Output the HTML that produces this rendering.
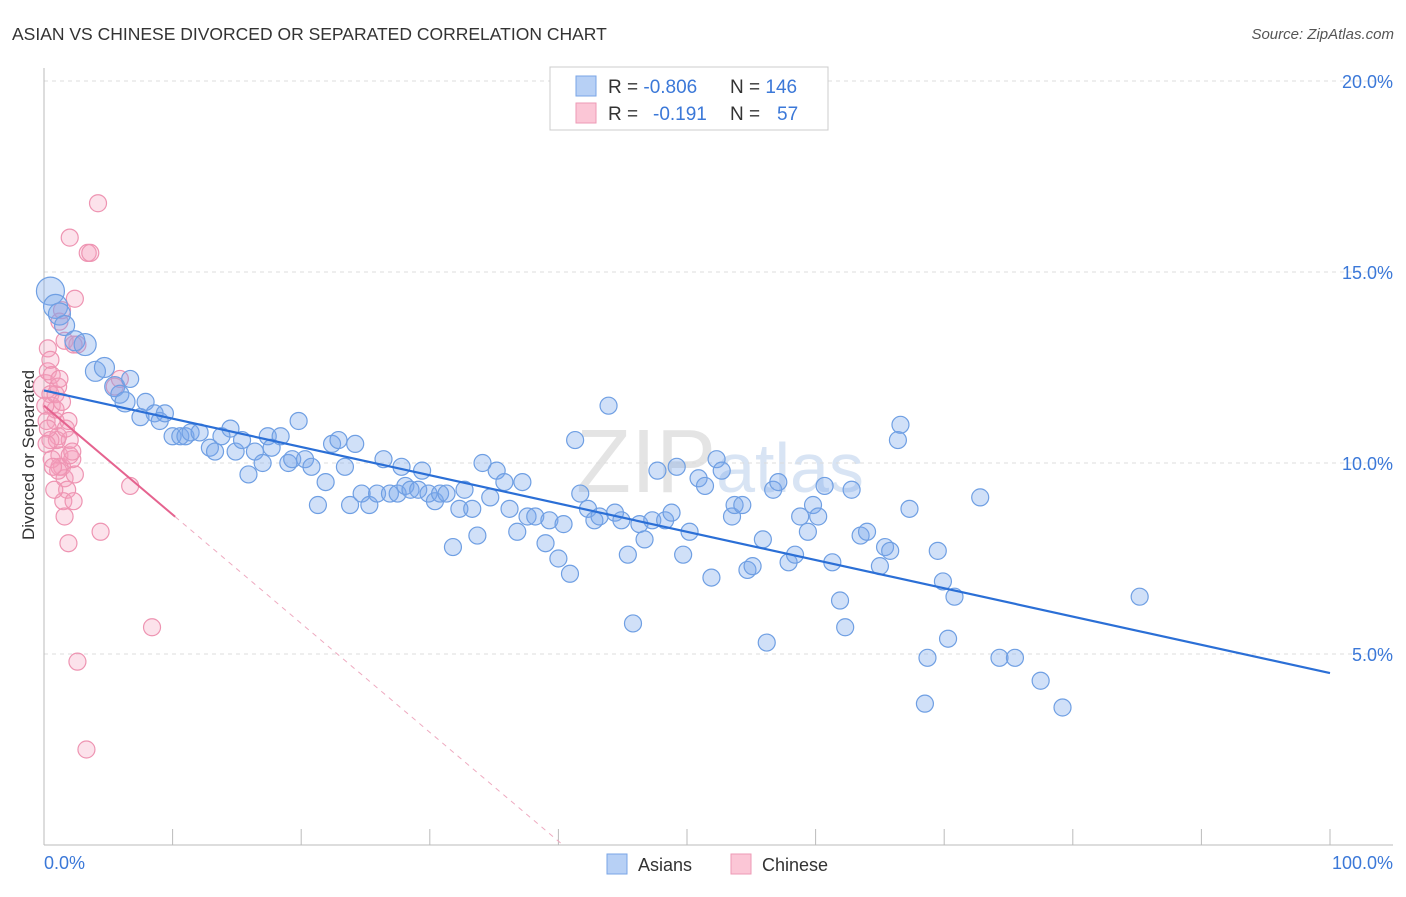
<!DOCTYPE html>
<html><head><meta charset="utf-8"><style>
body{margin:0;background:#fff;font-family:"Liberation Sans",sans-serif;}
svg text{font-family:"Liberation Sans",sans-serif;}
</style></head><body>
<svg id="c" width="1406" height="892" xmlns="http://www.w3.org/2000/svg">
<text x="12" y="40" font-size="17.5" fill="#333">ASIAN VS CHINESE DIVORCED OR SEPARATED CORRELATION CHART</text>
<text x="1394" y="39" font-size="15" fill="#555" font-style="italic" text-anchor="end">Source: ZipAtlas.com</text>
<text x="720" y="492" font-size="90" fill="#e4e4e4" text-anchor="middle" font-family="Liberation Serif">ZIP<tspan font-family="Liberation Sans" font-size="70" fill="#d8e4f4">atlas</tspan></text>
<text transform="translate(34,455) rotate(-90)" font-size="17" fill="#333" text-anchor="middle">Divorced or Separated</text>
<g id="grid"></g><g id="pts"></g><g id="lines"></g>
<g>
<rect x="550" y="67" width="278" height="63" fill="#fff" stroke="#ccc"/>
<rect x="576" y="76" width="20" height="20" fill="#b7d0f5" stroke="#7aa5e6"/>
<rect x="576" y="103" width="20" height="20" fill="#fbc6d6" stroke="#ee9ab5"/>
<text x="608" y="93" font-size="19" fill="#333">R = <tspan fill="#3b78d8">-0.806</tspan></text>
<text x="730" y="93" font-size="19" fill="#333">N = <tspan fill="#3b78d8">146</tspan></text>
<text x="608" y="120" font-size="19" fill="#333">R = </text><text x="653" y="120" font-size="19" fill="#3b78d8">-0.191</text>
<text x="730" y="120" font-size="19" fill="#333">N = </text><text x="777" y="120" font-size="19" fill="#3b78d8">57</text>
</g>
<g>
<rect x="607" y="854" width="20" height="20" fill="#b7d0f5" stroke="#7aa5e6"/>
<text x="638" y="871" font-size="18" fill="#333">Asians</text>
<rect x="731" y="854" width="20" height="20" fill="#fbc6d6" stroke="#ee9ab5"/>
<text x="762" y="871" font-size="18" fill="#333">Chinese</text>
</g>
</svg>
<script>
const yTicks=[5,10,15,20];
const yTickLabels=["5.0%","10.0%","15.0%","20.0%"];
const xTickLabels=["0.0%","100.0%"];
const asianX=[0.5,0.9,1.2,1.6,2.4,3.2,4.0,4.7,5.5,5.9,6.3,6.7,7.5,7.9,8.6,9.0,9.4,10.0,10.6,11.0,11.4,12.1,12.9,13.3,13.8,14.5,14.9,15.4,15.9,16.4,17.0,17.4,17.7,18.4,19.0,19.3,19.8,20.3,20.8,21.3,21.9,22.4,22.9,23.4,23.8,24.2,24.7,25.3,25.9,26.4,26.9,27.5,27.8,28.1,28.5,29.1,29.4,29.9,30.4,30.8,31.3,31.8,32.3,32.7,33.3,33.7,34.1,34.7,35.2,35.8,36.2,36.8,37.2,37.6,38.2,39.0,39.3,40.0,40.4,40.9,41.3,41.7,42.3,42.8,43.2,43.9,44.4,44.9,45.4,45.8,46.3,46.7,47.3,47.7,48.3,48.8,49.2,49.7,50.2,50.9,51.4,51.9,52.3,52.7,53.5,53.7,54.3,54.7,55.1,55.9,56.2,56.7,57.1,57.9,58.4,58.8,59.4,59.8,60.2,60.7,61.3,61.9,62.3,62.8,63.5,64.0,65.0,65.4,65.8,66.4,66.6,67.3,68.7,69.5,69.9,70.3,70.8,68.5,72.8,74.3,75.5,77.5,79.2,85.2];
const asianY=[14.5,14.1,13.9,13.6,13.2,13.1,12.4,12.5,12.0,11.8,11.6,12.2,11.2,11.6,11.3,11.1,11.3,10.7,10.7,10.7,10.8,10.8,10.4,10.3,10.7,10.9,10.3,10.6,9.7,10.3,10.0,10.7,10.4,10.7,10.0,10.1,11.1,10.1,9.9,8.9,9.5,10.5,10.6,9.9,8.9,10.5,9.2,8.9,9.2,10.1,9.2,9.2,9.9,9.4,9.3,9.3,9.8,9.2,9.0,9.2,9.2,7.8,8.8,9.3,8.8,8.1,10.0,9.1,9.8,9.5,8.8,8.2,9.5,8.6,8.6,7.9,8.5,7.5,8.4,7.1,10.6,9.2,8.8,8.5,8.6,11.5,8.7,8.5,7.6,5.8,8.4,8.0,8.5,9.8,8.5,8.7,9.9,7.6,8.2,9.6,9.4,7.0,10.1,9.8,8.6,8.9,8.9,7.2,7.3,8.0,5.3,9.3,9.5,7.4,7.6,8.6,8.2,8.9,8.6,9.4,7.4,6.4,5.7,9.3,8.1,8.2,7.3,7.8,7.7,10.6,11.0,8.8,4.9,7.7,6.9,5.4,6.5,3.7,9.1,4.9,4.9,4.3,3.6,6.5];
const asianR=[14,12,11,10,10,11,10,10,10,9,10];
const chineseX=[0.1,0.3,0.5,0.6,0.9,1.1,1.2,1.4,1.6,1.8,2.0,2.2,2.4,0.3,0.5,0.6,0.9,1.0,1.2,1.5,1.6,1.9,2.0,2.3,0.1,0.2,0.5,0.6,0.9,1.1,1.2,1.4,1.6,2.0,2.4,2.6,3.4,3.6,4.2,4.4,5.5,5.9,6.7,8.4,2.6,3.3,1.4,1.7,1.1,0.8,0.3,0.2,0.7,1.9,2.2,1.2,2.3];
const chineseY=[12.0,12.4,11.8,11.5,11.1,10.7,10.2,9.9,9.6,9.3,10.6,10.1,9.7,13.0,12.7,12.3,11.4,10.6,9.9,9.0,8.6,7.9,10.2,9.0,11.5,11.1,10.6,10.1,11.8,12.0,13.7,14.0,13.2,15.9,14.3,13.1,15.5,15.5,16.8,8.2,12.0,12.2,9.4,5.7,4.8,2.5,11.6,10.9,9.8,9.3,10.9,10.5,9.9,11.1,10.3,12.2,13.1];
const asianTrend=[11.9,-0.074];
const chineseTrend=[11.5,-0.285,10.2];
const NS="http://www.w3.org/2000/svg";
const X=v=>44+v*12.86, Y=v=>845-v*38.2;
function mk(t,a,p){const e=document.createElementNS(NS,t);for(const k in a)e.setAttribute(k,a[k]);p.appendChild(e);return e;}
const grid=document.getElementById('grid');
yTicks.forEach((t,i)=>{
 const l=mk('line',{x1:44,x2:1393,y1:Y(t),y2:Y(t),stroke:'#ddd','stroke-dasharray':'4,4'},grid);
 
 
 const tx=mk('text',{x:1393,y:Y(t)+7,'font-size':18,fill:'#3b78d8','text-anchor':'end'},grid);
 tx.textContent=yTickLabels[i];
 
 
});
const ax=mk('line',{x1:44,x2:1393,y1:845,y2:845,stroke:'#bbb'},grid);


const ay=mk('line',{x1:44,x2:44,y1:68,y2:845,stroke:'#bbb'},grid);


for(let i=0;i<=10;i++){const tk=mk('line',{x1:X(i*10),x2:X(i*10),y1:829,y2:845,stroke:'#bbb'},grid);
 
 }
const xl0=mk('text',{x:44,y:869,'font-size':18,fill:'#3b78d8'},grid);xl0.textContent=xTickLabels[0];


const xl1=mk('text',{x:1393,y:869,'font-size':18,fill:'#3b78d8','text-anchor':'end'},grid);xl1.textContent=xTickLabels[1];


const pts=document.getElementById('pts');
chineseX.forEach((x,i)=>{const c=mk('circle',{cx:X(x),cy:Y(chineseY[i]),r:i==0?12:8.5,fill:'rgba(244,160,190,0.3)',stroke:'#ee94b2','stroke-width':1.2},pts);
 
 });
asianX.forEach((x,i)=>{const c=mk('circle',{cx:X(x),cy:Y(asianY[i]),r:asianR[i]||8.5,fill:'rgba(120,165,235,0.35)',stroke:'#6f9fe3','stroke-width':1.2},pts);
 
 });
const ln=document.getElementById('lines');
const bl=mk('line',{x1:X(0),y1:Y(asianTrend[0]),x2:X(100),y2:Y(asianTrend[0]+asianTrend[1]*100),stroke:'#2b6fd6','stroke-width':2.2},ln);


const xe=chineseTrend[2], xz=-chineseTrend[0]/chineseTrend[1];
const pl=mk('line',{x1:X(0),y1:Y(chineseTrend[0]),x2:X(xe),y2:Y(chineseTrend[0]+chineseTrend[1]*xe),stroke:'#e5638f','stroke-width':2},ln);


const pd=mk('line',{x1:X(xe),y1:Y(chineseTrend[0]+chineseTrend[1]*xe),x2:X(xz),y2:Y(0),stroke:'#eeaac0','stroke-width':1,'stroke-dasharray':'5,5'},ln);


</script>
</body></html>
